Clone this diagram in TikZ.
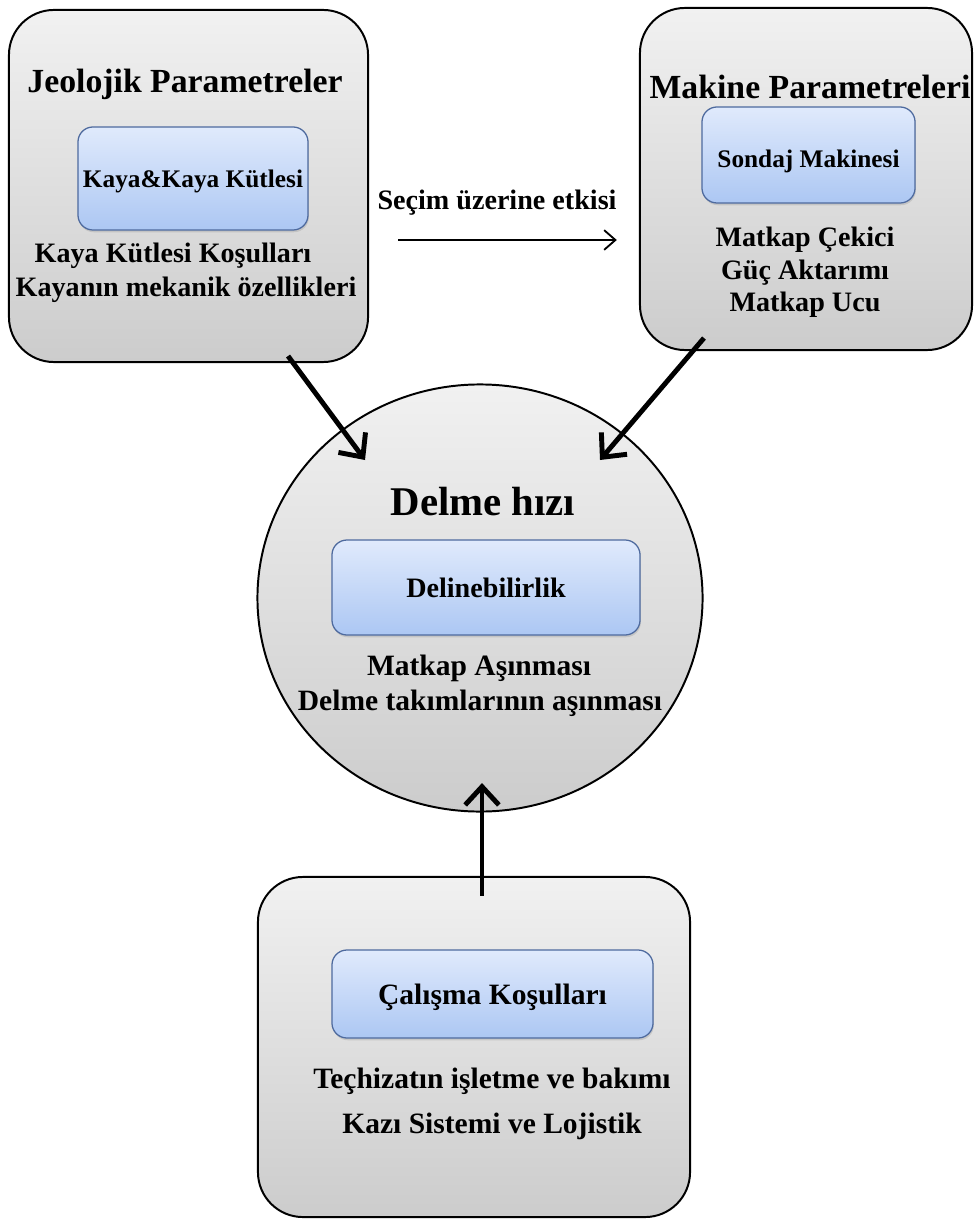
\documentclass[tikz,border=0pt]{standalone}
\usepackage{fontspec}
\setmainfont{Liberation Serif}
\usetikzlibrary{arrows.meta, shapes.geometric, shadows}
\definecolor{boxtop}{RGB}{241,241,241}
\definecolor{boxbot}{RGB}{204,204,204}
\definecolor{innertop}{RGB}{224,234,252}
\definecolor{innerbot}{RGB}{172,199,243}
\definecolor{innerline}{RGB}{78,106,158}
\tikzset{
  outerbox/.style={
    rectangle, rounded corners=1.125cm, inner sep=0pt,
    draw=black, line width=1.4pt, top color=boxtop, bottom color=boxbot
  },
  innerbox/.style={
    rectangle, rounded corners=0.375cm, inner sep=0pt, text depth=0pt,
    draw=innerline, line width=0.9pt, top color=innertop, bottom color=innerbot,
    drop shadow={opacity=0.25, shadow xshift=0.6pt, shadow yshift=-1.6pt}
  },
  headtxt/.style={font=\fontsize{24}{28}\selectfont\bfseries, inner sep=0pt, anchor=base},
  bodytxt/.style={font=\fontsize{20}{24}\selectfont\bfseries, inner sep=0pt, anchor=base},
  bigarr/.style={-{Straight Barb[length=13pt,width=24pt]}, line width=3.5pt},
  thinarr/.style={-{Straight Barb[length=8pt,width=14pt]}, line width=1.3pt}
}

\begin{document}
\begin{tikzpicture}[x=0.025cm, y=-0.025cm]
  \useasboundingbox (0,0) rectangle (975,1220);

  % ── Geology box (top left) ─────────────────────────────────────
  \node[outerbox, minimum width=8.975cm, minimum height=8.8cm] (geo) at (188.5,186) {};
  \node[headtxt] (geotitle) at (185,93) {Jeolojik Parametreler};
  \node[innerbox, minimum width=5.75cm, minimum height=2.575cm,
        font=\fontsize{18}{22}\selectfont\bfseries] (rock) at (193,178.5) {Kaya\&Kaya Kütlesi};
  \node[bodytxt] (geoa) at (173,263) {Kaya Kütlesi Koşulları};
  \node[bodytxt] (geob) at (186,297) {Kayanın mekanik özellikleri};

  % ── Machine box (top right) ────────────────────────────────────
  \node[outerbox, minimum width=8.3cm, minimum height=8.55cm] (mach) at (806,179) {};
  \node[headtxt] (machtitle) at (810,99) {Makine Parametreleri};
  \node[innerbox, minimum width=5.325cm, minimum height=2.4cm, text height=18pt,
        font=\fontsize{18}{22}\selectfont\bfseries] (drill) at (808.5,155) {Sondaj Makinesi};
  \node[bodytxt] (macha) at (805,247) {Matkap Çekici};
  \node[bodytxt] (machb) at (805,280) {Güç Aktarımı};
  \node[bodytxt] (machc) at (805,312) {Matkap Ucu};

  % ── Selection label ────────────────────────────────────────────
  \node[bodytxt] (sel) at (497,210) {Seçim üzerine etkisi};
  \draw[thinarr] ([shift={(21,30)}]sel.base west) -- ([shift={(0,30)}]sel.base east);

  % ── Drilling rate (circle) ─────────────────────────────────────
  \node[ellipse, draw=black, line width=1.4pt, top color=boxtop, bottom color=boxbot,
        minimum width=11.125cm, minimum height=10.675cm, inner sep=0pt] (rate) at (480,598) {};
  \node[headtxt, font=\fontsize{29}{34}\selectfont\bfseries] (ratetitle) at (483,515) {Delme hızı};
  \node[innerbox, minimum width=7.7cm, minimum height=2.375cm,
        font=\fontsize{20}{24}\selectfont\bfseries] (drillab) at (486,587.5) {Delinebilirlik};
  \node[bodytxt, font=\fontsize{21}{25}\selectfont\bfseries] (ratea) at (479,675) {Matkap Aşınması};
  \node[bodytxt, font=\fontsize{21}{25}\selectfont\bfseries] (rateb) at (480,710) {Delme takımlarının aşınması};

  % ── Working conditions box (bottom) ────────────────────────────
  \node[outerbox, minimum width=10.8cm, minimum height=8.5cm] (work) at (474,1047) {};
  \node[innerbox, minimum width=8.025cm, minimum height=2.2cm,
        font=\fontsize{21}{25}\selectfont\bfseries] (cond) at (492.5,994) {Çalışma Koşulları};
  \node[bodytxt, font=\fontsize{21}{25}\selectfont\bfseries] (worka) at (492,1088) {Teçhizatın işletme ve bakımı};
  \node[bodytxt, font=\fontsize{21}{25}\selectfont\bfseries] (workb) at (492,1133) {Kazı Sistemi ve Lojistik};

  % ── Main arrows ────────────────────────────────────────────────
  \draw[bigarr] ([shift={(-81,-7)}]geo.south east) -- ([shift={(-115,-138)}]rate.center);
  \draw[bigarr] ([shift={(65,-13)}]mach.south west) -- ([shift={(120,-138)}]rate.center);
  \draw[bigarr] ([shift={(8,20)}]work.north) -- ([shift={(2,-29.5)}]rate.south);

\end{tikzpicture}
\end{document}
